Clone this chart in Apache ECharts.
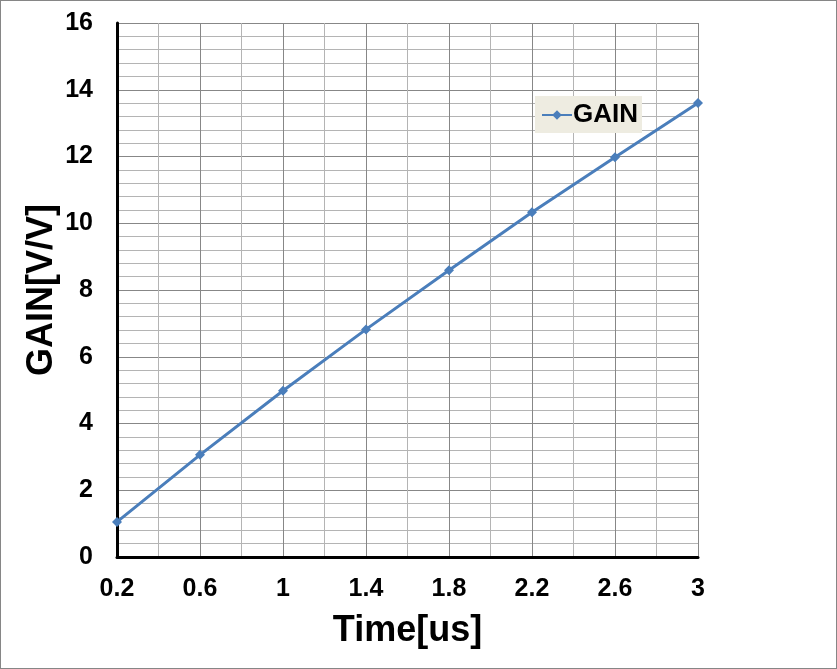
<!DOCTYPE html>
<html>
<head>
<meta charset="utf-8">
<script src="https://cdn.jsdelivr.net/npm/echarts@6/dist/echarts.min.js"></script>
<style>
html, body { margin: 0; padding: 0; background: #fff; }
#chart {
  width: 835px;
  height: 667px;
  border: 1px solid #868686;
}
</style>
</head>
<body>
<div id="chart"></div>
<script>
// time in us, gain in V/V
var timeUs = [0.2, 0.6, 1.0, 1.4, 1.8, 2.2, 2.6, 3.0];
var gain = [1.05, 3.06, 4.98, 6.82, 8.59, 10.33, 11.98, 13.6];
var xLabels = [0.2, 0.6, 1, 1.4, 1.8, 2.2, 2.6, 3];

var points = timeUs.map(function (t, i) { return [t, gain[i]]; });

var myChart = echarts.init(document.getElementById('chart'));

var option = {
  animation: false,
  textStyle: { fontFamily: 'Liberation Sans, Arial, sans-serif' },
  grid: { left: 116, right: 138, top: 22, bottom: 111 },
  legend: {
    left: 534,
    top: 95,
    padding: [6, 4, 5, 6],
    backgroundColor: '#EEECE1',
    itemWidth: 30,
    itemHeight: 12,
    itemGap: 2,
    textStyle: { fontSize: 26, fontWeight: 'bold', color: '#000', padding: [0, 0, 0, -4] },
    data: ['GAIN']
  },
  xAxis: {
    type: 'value',
    min: 0.2,
    max: 3,
    interval: 0.2,
    name: 'Time[us]',
    nameLocation: 'middle',
    nameGap: 56,
    nameMoveOverlap: false,
    nameTextStyle: { fontSize: 36, fontWeight: 'bold', color: '#000' },
    axisLine: { lineStyle: { color: '#000', width: 3 } },
    axisTick: { show: false },
    axisLabel: {
      fontSize: 25, fontWeight: 'bold', color: '#000', margin: 20,
      formatter: function (v) {
        var ok = xLabels.some(function (l) { return Math.abs(l - v) < 1e-6; });
        return ok ? String(Math.round(v * 10) / 10) : '';
      }
    },
    splitLine: { show: true, lineStyle: { color: ['#878787', '#b4b4b4'], width: 1 } }
  },
  yAxis: {
    type: 'value',
    min: 0,
    max: 16,
    interval: 2,
    name: 'GAIN[V/V]',
    nameLocation: 'middle',
    nameGap: 57,
    nameMoveOverlap: false,
    nameTextStyle: { fontSize: 36, fontWeight: 'bold', color: '#000' },
    axisLine: { show: true, lineStyle: { color: '#000', width: 3 } },
    axisTick: { show: false },
    minorTick: { show: false, splitNumber: 5 },
    axisLabel: { fontSize: 25, fontWeight: 'bold', color: '#000', margin: 24 },
    splitLine: { show: true, lineStyle: { color: '#878787', width: 1 } },
    minorSplitLine: { show: true, lineStyle: { color: '#b4b4b4', width: 1 } }
  },
  series: [{
    name: 'GAIN',
    type: 'line',
    data: points,
    symbol: 'diamond',
    symbolSize: 10,
    color: '#4A7EBB',
    lineStyle: { width: 3, color: '#4A7EBB' },
    itemStyle: { color: '#4A7EBB' }
  }]
};

myChart.setOption(option);
</script>
</body>
</html>
